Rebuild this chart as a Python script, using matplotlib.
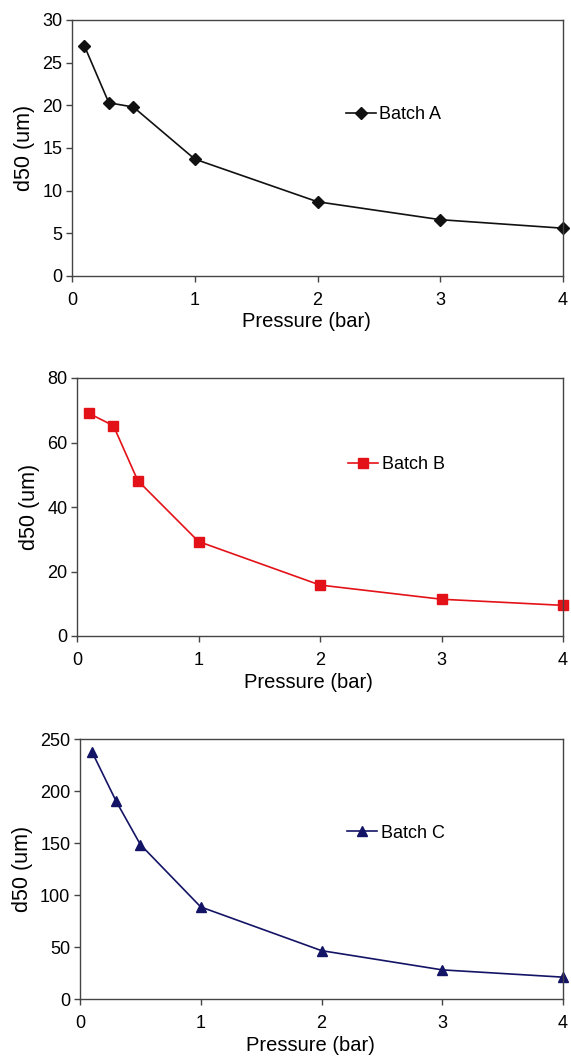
import matplotlib
matplotlib.use("Agg")
import matplotlib.pyplot as plt

plt.rcParams["font.family"] = ["Liberation Sans", "DejaVu Sans"]

pressure = [0.1, 0.3, 0.5, 1, 2, 3, 4]
batchA = [27.0, 20.3, 19.8, 13.7, 8.7, 6.6, 5.6]
batchB = [69.0, 65.2, 48.2, 29.3, 15.8, 11.4, 9.5]
batchC = [237.5, 190.0, 148.5, 88.5, 46.5, 28.0, 21.0]

ylims = [(0, 30), (0, 80), (0, 250)]
yticks = [[0, 5, 10, 15, 20, 25, 30], [0, 20, 40, 60, 80], [0, 50, 100, 150, 200, 250]]
labels = ["Batch A", "Batch B", "Batch C"]
colors = ["#111111", "#e31218", "#141466"]
markers = ["D", "s", "^"]
msizes = [6, 7, 7]
series = [batchA, batchB, batchC]

# axes rectangles in pixels (left, top, right, bottom) and legend anchors
W, H = 571, 1057
boxes = [(72, 20, 563, 276), (77, 378, 563, 636), (80, 739, 563, 999)]
leg_pos = [(0.558, 0.629), (0.558, 0.663), (0.553, 0.638)]

fig = plt.figure(figsize=(W / 100, H / 100), dpi=100)
for i in range(3):
    l, t, r, b = boxes[i]
    ax = fig.add_axes([l / W, 1 - b / H, (r - l) / W, (b - t) / H])
    ax.plot(pressure, series[i], color=colors[i], marker=markers[i],
            markersize=msizes[i], linewidth=1.2, label=labels[i], clip_on=False)
    ax.set_xlim(0, 4)
    ax.set_ylim(*ylims[i])
    ax.set_xticks([0, 1, 2, 3, 4])
    ax.set_yticks(yticks[i])
    ax.tick_params(direction="out", length=4, width=1, labelsize=13, colors="#444444",
                   labelcolor="black", top=False, right=False)
    ax.tick_params(axis="x", pad=7.5)
    ax.tick_params(axis="y", pad=3)
    for s in ax.spines.values():
        s.set_color("#444444")
        s.set_linewidth(1)
    ax.set_xlabel("Pressure (bar)", fontsize=14.5)
    ax.xaxis.set_label_coords(0.477, -0.142)
    ax.set_ylabel("d50 (um)", fontsize=15.5, labelpad=5)
    ax.legend(loc="center left", bbox_to_anchor=leg_pos[i], frameon=False,
              fontsize=13, handlelength=1.65, handletextpad=0.2, borderaxespad=0,
              borderpad=0)

fig.savefig("out.png", dpi=100)
